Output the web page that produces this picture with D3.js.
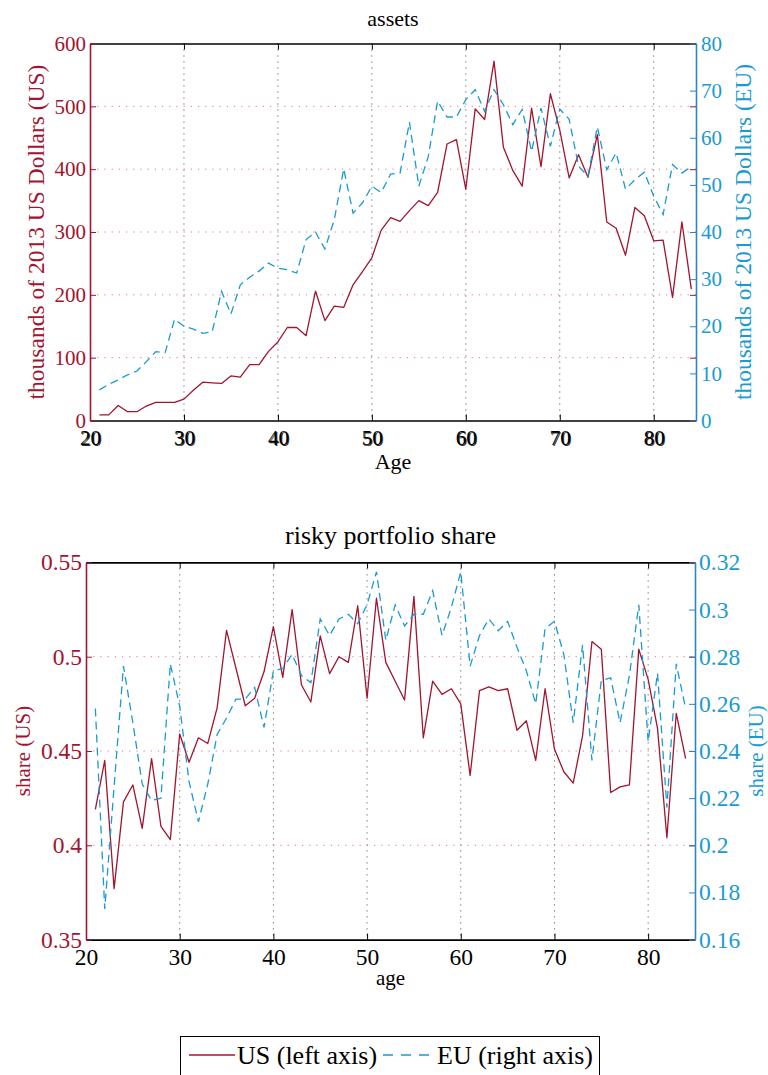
<!DOCTYPE html>
<html>
<head>
<meta charset="utf-8">
<script src="https://cdn.jsdelivr.net/npm/d3@7"></script>
<style>
  html, body { margin: 0; padding: 0; background: #fff; }
  svg { display: block; }
  text { font-family: "Liberation Serif", "Times New Roman", serif; }
</style>
</head>
<body>
<div id="chart"></div>
<script>
// ---- data -------------------------------------------------------------
const ages = [21,22,23,24,25,26,27,28,29,30,31,32,33,34,35,36,37,38,39,40,
              41,42,43,44,45,46,47,48,49,50,51,52,53,54,55,56,57,58,59,60,
              61,62,63,64,65,66,67,68,69,70,71,72,73,74,75,76,77,78,79,80,
              81,82,83,84];

// assets, thousands of 2013 US dollars
const assetsUS = [9,9,24,14,14,23,29,29,29,34,48,61,60,59,71,69,89,89,110,125,
                  148,148,135,206,159,182,180,216,237,259,303,323,317,334,350,342,363,440,447,368,
                  496,479,572,435,398,373,497,404,520,462,386,423,387,455,316,306,263,339,326,286,
                  287,196,316,209];
const assetsEU = [6.5,7.7,8.6,9.7,10.5,12.5,14.6,14.4,21.5,20,19.4,18.5,18.8,27.4,22.6,28.8,30.4,31.7,33.4,32.3,
                  32,31.3,38.4,40,36.4,42.6,53.4,44,46.2,49.7,48.4,52.3,52.5,63.3,49.7,56,67.8,64.4,64.4,68.1,
                  70.2,65.6,70.2,67,62.8,66,57.1,66.3,58.2,66.1,63.9,54,51.8,62.3,53.2,56.8,49.1,51.1,52.7,47.6,
                  43.7,54.3,52.5,53.9];

// risky portfolio share
const shareUS = [0.419,0.445,0.377,0.423,0.432,0.409,0.446,0.410,0.403,0.459,0.444,0.457,0.454,0.473,0.514,0.494,0.474,0.478,0.492,0.516,
                 0.489,0.525,0.485,0.476,0.511,0.491,0.500,0.497,0.527,0.478,0.531,0.497,0.487,0.477,0.532,0.457,0.487,0.480,0.483,0.475,
                 0.437,0.482,0.484,0.482,0.483,0.461,0.466,0.445,0.483,0.451,0.439,0.433,0.458,0.508,0.504,0.428,0.431,0.432,0.504,0.488,
                 0.462,0.404,0.470,0.446];
const shareEU = [0.258,0.173,0.225,0.276,0.252,0.226,0.219,0.220,0.277,0.259,0.227,0.210,0.226,0.247,0.254,0.262,0.262,0.267,0.250,0.274,
                 0.275,0.281,0.272,0.269,0.296,0.289,0.296,0.298,0.294,0.302,0.316,0.287,0.302,0.293,0.298,0.298,0.308,0.289,0.301,0.316,
                 0.276,0.289,0.296,0.291,0.295,0.284,0.274,0.260,0.292,0.295,0.281,0.252,0.285,0.236,0.270,0.271,0.252,0.272,0.302,0.244,
                 0.273,0.216,0.277,0.258];

// ticks
const ageTicks = [20,30,40,50,60,70,80];
const ageTickLabels = ["20","30","40","50","60","70","80"];
const assetsUSTicks = [0,100,200,300,400,500,600];
const assetsUSTickLabels = ["0","100","200","300","400","500","600"];
const assetsEUTicks = [0,10,20,30,40,50,60,70,80];
const assetsEUTickLabels = ["0","10","20","30","40","50","60","70","80"];
const shareUSTicks = [0.35,0.40,0.45,0.50,0.55];
const shareUSTickLabels = ["0.35","0.4","0.45","0.5","0.55"];
const shareEUTicks = [0.16,0.18,0.20,0.22,0.24,0.26,0.28,0.30,0.32];
const shareEUTickLabels = ["0.16","0.18","0.2","0.22","0.24","0.26","0.28","0.3","0.32"];

const seriesNames = ["US (left axis)", "EU (right axis)"];

// ---- styling ----------------------------------------------------------
const RED = "#a2142f";
const BLUE = "#1a9ad3";
const BLUE_AXIS = "#2c86bd";

const W = 768, H = 1075;
const svg = d3.select("#chart").append("svg").attr("width", W).attr("height", H);

function panel(cfg) {
  const g = svg.append("g");
  const x = d3.scaleLinear().domain(cfg.xDomain).range([cfg.left, cfg.right]);
  const yL = d3.scaleLinear().domain(cfg.yLDomain).range([cfg.bottom, cfg.top]);
  const yR = d3.scaleLinear().domain(cfg.yRDomain).range([cfg.bottom, cfg.top]);

  // grid: vertical at age ticks, horizontal at left-axis ticks
  g.append("g").selectAll("line")
    .data(cfg.xTicks.filter(d => d > cfg.xDomain[0] && d < cfg.xDomain[1]))
    .join("line")
    .attr("x1", d => x(d)).attr("x2", d => x(d))
    .attr("y1", cfg.top).attr("y2", cfg.bottom)
    .attr("stroke", "#444").attr("stroke-width", 1)
    .attr("stroke-dasharray", "1,5");
  g.append("g").selectAll("line")
    .data(cfg.yLTicks.filter(d => d > cfg.yLDomain[0] && d < cfg.yLDomain[1]))
    .join("line")
    .attr("x1", cfg.left).attr("x2", cfg.right)
    .attr("y1", d => yL(d)).attr("y2", d => yL(d))
    .attr("stroke", "#d97a90").attr("stroke-width", 1)
    .attr("stroke-dasharray", "1.2,6");

  // series
  const lineL = d3.line().x((d, i) => x(ages[i])).y(d => yL(d));
  const lineR = d3.line().x((d, i) => x(ages[i])).y(d => yR(d));
  g.append("path").datum(cfg.usValues).attr("d", lineL)
    .attr("fill", "none").attr("stroke", RED).attr("stroke-width", 1.3)
    .attr("stroke-linejoin", "round");
  g.append("path").datum(cfg.euValues).attr("d", lineR)
    .attr("fill", "none").attr("stroke", BLUE).attr("stroke-width", 1.3)
    .attr("stroke-dasharray", "8,5");

  // bottom axis with labels
  const xb = g.append("g").attr("transform", `translate(0,${cfg.bottom})`)
    .call(d3.axisBottom(x).tickValues(cfg.xTicks)
      .tickFormat((d, i) => cfg.xTickLabels[i])
      .tickSize(-6).tickSizeOuter(0).tickPadding(cfg.xLabelPad));
  xb.select(".domain").attr("stroke", "#000").attr("stroke-width", 1.6);
  xb.selectAll(".tick line").attr("stroke", "#000");
  xb.selectAll("text").attr("fill", "#000").attr("font-size", cfg.tickFont)
    .attr("font-family", "Liberation Serif");
  if (cfg.doubleXLabels) {
    // second, slightly shifted copy of the age labels
    const xb2 = g.append("g").attr("transform", `translate(1,${cfg.bottom + 1})`)
      .call(d3.axisBottom(x).tickValues(cfg.xTicks)
        .tickFormat((d, i) => cfg.xTickLabels[i])
        .tickSize(0).tickSizeOuter(0).tickPadding(cfg.xLabelPad));
    xb2.select(".domain").remove();
    xb2.selectAll("text").attr("fill", "#000").attr("font-size", cfg.tickFont)
      .attr("font-family", "Liberation Serif").attr("opacity", 0.8);
  }

  // top axis (ticks only)
  const xt = g.append("g").attr("transform", `translate(0,${cfg.top})`)
    .call(d3.axisTop(x).tickValues(cfg.xTicks).tickFormat("")
      .tickSize(-6).tickSizeOuter(0));
  xt.select(".domain").attr("stroke", "#000").attr("stroke-width", 1.6);
  xt.selectAll(".tick line").attr("stroke", "#000");

  // left axis
  const al = g.append("g").attr("transform", `translate(${cfg.left},0)`)
    .call(d3.axisLeft(yL).tickValues(cfg.yLTicks)
      .tickFormat((d, i) => cfg.yLTickLabels[i])
      .tickSize(-6).tickSizeOuter(0).tickPadding(4));
  al.select(".domain").attr("stroke", RED).attr("stroke-width", 1.6);
  al.selectAll(".tick line").attr("stroke", RED);
  al.selectAll("text").attr("fill", RED).attr("font-size", cfg.tickFont)
    .attr("font-family", "Liberation Serif");

  // left-axis ticks repeated on the right edge
  const alm = g.append("g").attr("transform", `translate(${cfg.right},0)`)
    .call(d3.axisRight(yL).tickValues(cfg.yLTicks).tickFormat("")
      .tickSize(-6).tickSizeOuter(0));
  alm.select(".domain").remove();
  alm.selectAll(".tick line").attr("stroke", RED);

  // right axis
  const ar = g.append("g").attr("transform", `translate(${cfg.right},0)`)
    .call(d3.axisRight(yR).tickValues(cfg.yRTicks)
      .tickFormat((d, i) => cfg.yRTickLabels[i])
      .tickSize(-6).tickSizeOuter(0).tickPadding(cfg.rLabelPad));
  ar.select(".domain").attr("stroke", BLUE_AXIS).attr("stroke-width", 1.6);
  ar.selectAll(".tick line").attr("stroke", BLUE_AXIS);
  ar.selectAll("text").attr("fill", BLUE).attr("font-size", cfg.tickFont)
    .attr("font-family", "Liberation Serif");

  // title and axis labels
  const cx = (cfg.left + cfg.right) / 2;
  g.append("text").attr("x", cx).attr("y", cfg.titleY)
    .attr("text-anchor", "middle").attr("font-size", cfg.titleFont)
    .attr("fill", "#000").text(cfg.title);
  g.append("text").attr("x", cx).attr("y", cfg.xLabelY)
    .attr("text-anchor", "middle").attr("font-size", cfg.xLabelFont)
    .attr("fill", "#000").text(cfg.xLabel);
  g.append("text")
    .attr("transform", `translate(${cfg.yLLabelX},${(cfg.top + cfg.bottom) / 2}) rotate(-90)`)
    .attr("text-anchor", "middle").attr("dy", "0.35em")
    .attr("font-size", cfg.yLabelFont).attr("fill", RED).text(cfg.yLLabel);
  g.append("text")
    .attr("transform", `translate(${cfg.yRLabelX},${(cfg.top + cfg.bottom) / 2}) rotate(-90)`)
    .attr("text-anchor", "middle").attr("dy", "0.35em")
    .attr("font-size", cfg.yRLabelFont).attr("fill", BLUE).text(cfg.yRLabel);
}

panel({
  left: 90, right: 696, top: 43.5, bottom: 420.5,
  xDomain: [20, 84.5], yLDomain: [0, 600], yRDomain: [0, 80],
  xTicks: ageTicks, xTickLabels: ageTickLabels,
  yLTicks: assetsUSTicks, yLTickLabels: assetsUSTickLabels,
  yRTicks: assetsEUTicks, yRTickLabels: assetsEUTickLabels,
  usValues: assetsUS, euValues: assetsEU,
  tickFont: 21, xLabelPad: 10, rLabelPad: 5, doubleXLabels: true,
  title: "assets", titleY: 26, titleFont: 22,
  xLabel: "Age", xLabelY: 469, xLabelFont: 22,
  yLLabel: "thousands of 2013 US Dollars (US)", yLLabelX: 36, yLabelFont: 23.5,
  yRLabel: "thousands of 2013 US Dollars (EU)", yRLabelX: 743, yRLabelFont: 23.5
});

panel({
  left: 86, right: 695, top: 562.4, bottom: 939.6,
  xDomain: [20, 85], yLDomain: [0.35, 0.55], yRDomain: [0.16, 0.32],
  xTicks: ageTicks, xTickLabels: ageTickLabels,
  yLTicks: shareUSTicks, yLTickLabels: shareUSTickLabels,
  yRTicks: shareEUTicks, yRTickLabels: shareEUTickLabels,
  usValues: shareUS, euValues: shareEU,
  tickFont: 23.5, xLabelPad: 9, rLabelPad: 4, doubleXLabels: false,
  title: "risky portfolio share", titleY: 544, titleFont: 26,
  xLabel: "age", xLabelY: 985, xLabelFont: 21,
  yLLabel: "share (US)", yLLabelX: 23, yLabelFont: 21,
  yRLabel: "share (EU)", yRLabelX: 755.5, yRLabelFont: 21
});

// ---- legend -----------------------------------------------------------
const lg = svg.append("g");
lg.append("rect").attr("x", 180.5).attr("y", 1036.5).attr("width", 419).attr("height", 50)
  .attr("fill", "#fff").attr("stroke", "#000").attr("stroke-width", 1);
lg.append("line").attr("x1", 189).attr("x2", 235).attr("y1", 1055).attr("y2", 1055)
  .attr("stroke", RED).attr("stroke-width", 1.5);
lg.append("text").attr("x", 237).attr("y", 1064).attr("font-size", 26)
  .attr("fill", "#000").text(seriesNames[0]);
lg.append("line").attr("x1", 383).attr("x2", 434).attr("y1", 1055).attr("y2", 1055)
  .attr("stroke", BLUE).attr("stroke-width", 1.5).attr("stroke-dasharray", "10,8");
lg.append("text").attr("x", 437).attr("y", 1064).attr("font-size", 26)
  .attr("fill", "#000").text(seriesNames[1]);
</script>
</body>
</html>
